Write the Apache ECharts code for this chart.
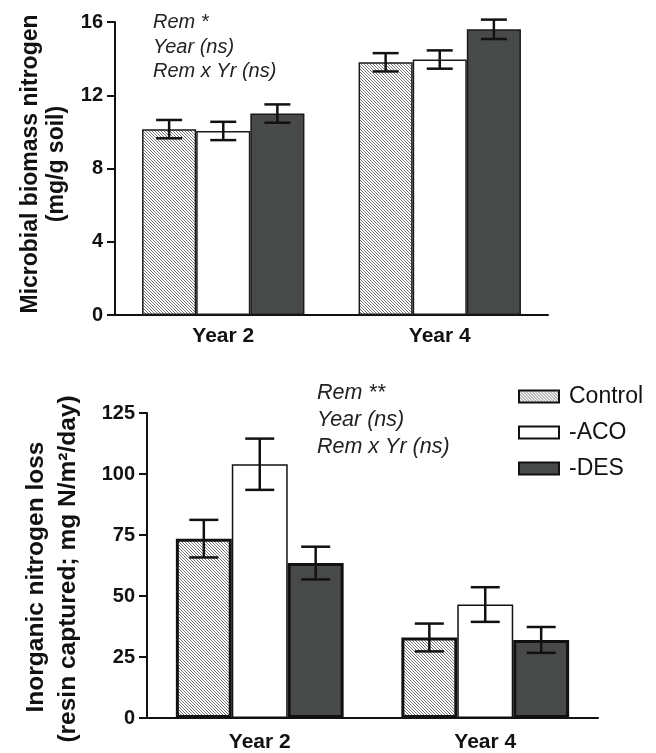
<!DOCTYPE html>
<html>
<head>
<meta charset="utf-8">
<script src="https://cdn.jsdelivr.net/npm/echarts@6/dist/echarts.min.js"></script>
<style>
  html, body { margin: 0; padding: 0; background: #fff; }
  #main { width: 656px; height: 753px; }
</style>
</head>
<body>
<div id="main"></div>
<script>
// categories
const years = ['Year 2', 'Year 4'];
const treatments = ['Control', '-ACO', '-DES'];

// microbial biomass nitrogen (mg/g soil), mean and error
const mbnControl = [10.15, 13.8];
const mbnAco = [10.05, 13.95];
const mbnDes = [11.0, 15.6];
const mbnControlErr = [0.5, 0.5];
const mbnAcoErr = [0.5, 0.5];
const mbnDesErr = [0.5, 0.53];

// inorganic nitrogen loss (mg N/m2/day), mean and error
const inlControl = [73.5, 33];
const inlAco = [104, 46.5];
const inlDes = [63.5, 32];
const inlControlErr = [7.7, 5.7];
const inlAcoErr = [10.5, 7.1];
const inlDesErr = [6.7, 5.3];

const mbnTicks = [0, 4, 8, 12, 16];
const inlTicks = [0, 25, 50, 75, 100, 125];

const FONT = "'Liberation Sans', Arial, Helvetica, sans-serif";

// hatch fill for the control bars
function makeHatch() {
    const s = 3;
    const c = document.createElement('canvas');
    c.width = s; c.height = s;
    const g = c.getContext('2d');
    g.fillStyle = '#fff';
    g.fillRect(0, 0, s, s);
    g.strokeStyle = '#6a6a6a';
    g.lineWidth = 0.9;
    g.beginPath();
    g.moveTo(-1, -1); g.lineTo(s + 1, s + 1);
    g.moveTo(-1, s - 1); g.lineTo(1, s + 1);
    g.moveTo(s - 1, -1); g.lineTo(s + 1, 1);
    g.stroke();
    return c;
}
const hatch = { image: makeHatch(), repeat: 'repeat' };
const fills = [hatch, '#ffffff', '#484a4a'];

function errorBars(k, gap, cap) {
    return function (params, api) {
        const cat = api.value(0);
        const band = api.size([1, 0])[0];
        const bw = band * (1 - gap) / 3;
        const top = api.coord([cat, api.value(2)]);
        const bot = api.coord([cat, api.value(1)]);
        const x = top[0] + (k - 1) * bw;
        const st = { stroke: '#111', lineWidth: 2.5 };
        return {
            type: 'group',
            children: [
                { type: 'line', shape: { x1: x, y1: top[1], x2: x, y2: bot[1] }, style: st },
                { type: 'line', shape: { x1: x - cap, y1: top[1], x2: x + cap, y2: top[1] }, style: st },
                { type: 'line', shape: { x1: x - cap, y1: bot[1], x2: x + cap, y2: bot[1] }, style: st }
            ]
        };
    };
}

function errData(mean, err) {
    return mean.map((m, i) => [i, m - err[i], m + err[i]]);
}

const mbnMeans = [mbnControl, mbnAco, mbnDes];
const mbnErrs = [mbnControlErr, mbnAcoErr, mbnDesErr];
const inlMeans = [inlControl, inlAco, inlDes];
const inlErrs = [inlControlErr, inlAcoErr, inlDesErr];

const topGap = 0.25;
const botGap = 0.256;

let series = [];
treatments.forEach((t, k) => {
    series.push({
        name: t + ' (MBN)',
        type: 'bar',
        xAxisIndex: 0, yAxisIndex: 0,
        barGap: '0%',
        barCategoryGap: (topGap * 100) + '%',
        data: mbnMeans[k],
        itemStyle: { color: fills[k], borderColor: '#1a1a1a', borderWidth: 1.5 },
        silent: true
    });
});
treatments.forEach((t, k) => {
    series.push({
        name: t,
        type: 'bar',
        xAxisIndex: 1, yAxisIndex: 1,
        barGap: '0%',
        barCategoryGap: (botGap * 100) + '%',
        data: inlMeans[k],
        itemStyle: { color: fills[k], borderColor: '#111', borderWidth: k === 1 ? 1.5 : 3 },
        silent: true
    });
});
treatments.forEach((t, k) => {
    series.push({
        type: 'custom',
        xAxisIndex: 0, yAxisIndex: 0,
        renderItem: errorBars(k, topGap, 13),
        encode: { x: 0, y: [1, 2] },
        data: errData(mbnMeans[k], mbnErrs[k]),
        z: 5, silent: true
    });
    series.push({
        type: 'custom',
        xAxisIndex: 1, yAxisIndex: 1,
        renderItem: errorBars(k, botGap, 14.5),
        encode: { x: 0, y: [1, 2] },
        data: errData(inlMeans[k], inlErrs[k]),
        z: 5, silent: true
    });
});

function xAxisOf(grid, margin) {
    return {
        type: 'category',
        gridIndex: grid,
        data: years,
        axisLine: { lineStyle: { color: '#111', width: 2 } },
        axisTick: { show: false },
        axisLabel: { color: '#111', fontFamily: FONT, fontWeight: 'bold', fontSize: 21, margin: margin }
    };
}
function yAxisOf(grid, ticks) {
    return {
        type: 'value',
        gridIndex: grid,
        min: ticks[0],
        max: ticks[ticks.length - 1],
        interval: ticks[1] - ticks[0],
        axisLine: { show: true, lineStyle: { color: '#111', width: 2 } },
        axisTick: { show: true, length: 8, lineStyle: { color: '#111', width: 2 } },
        axisLabel: { color: '#111', fontFamily: FONT, fontWeight: 'bold', fontSize: 20, margin: 12 },
        splitLine: { show: false }
    };
}

function note(x, y, text, size) {
    return {
        type: 'text', x: x, y: y,
        style: { text: text, font: 'italic ' + size + 'px ' + FONT, fill: '#222', textVerticalAlign: 'middle' }
    };
}
function vtitle(x, y, text, size) {
    return {
        type: 'text', x: x, y: y, rotation: Math.PI / 2,
        style: { text: text, font: 'bold ' + size + 'px ' + FONT, fill: '#111', textAlign: 'center', textVerticalAlign: 'middle' }
    };
}

const chart = echarts.init(document.getElementById('main'));
chart.setOption({
    animation: false,
    backgroundColor: '#fff',
    grid: [
        { left: 115, right: 108, top: 22, height: 293 },
        { left: 147, right: 58, top: 413, height: 307 }
    ],
    xAxis: [xAxisOf(0, 11), xAxisOf(1, 14)],
    yAxis: [yAxisOf(0, mbnTicks), yAxisOf(1, inlTicks)],
    legend: {
        data: treatments,
        orient: 'vertical',
        left: 518, top: 385,
        padding: 0,
        icon: 'rect',
        itemWidth: 40, itemHeight: 12, itemGap: 13,
        selectedMode: false,
        textStyle: { fontFamily: FONT, fontSize: 23, color: '#111', padding: [0, 0, 0, 5] }
    },
    graphic: [
        note(153, 22, 'Rem *', 20),
        note(153, 47, 'Year (ns)', 20),
        note(153, 71, 'Rem x Yr (ns)', 20),
        note(317, 393, 'Rem **', 21.5),
        note(317, 420, 'Year (ns)', 21.5),
        note(317, 447, 'Rem x Yr (ns)', 21.5),
        vtitle(31, 164, 'Microbial biomass nitrogen', 23),
        vtitle(57, 164, '(mg/g soil)', 23),
        vtitle(36, 577, 'Inorganic nitrogen loss', 24.5),
        vtitle(68, 569, '(resin captured; mg N/m\u00b2/day)', 24.5)
    ],
    series: series
});
</script>
</body>
</html>
